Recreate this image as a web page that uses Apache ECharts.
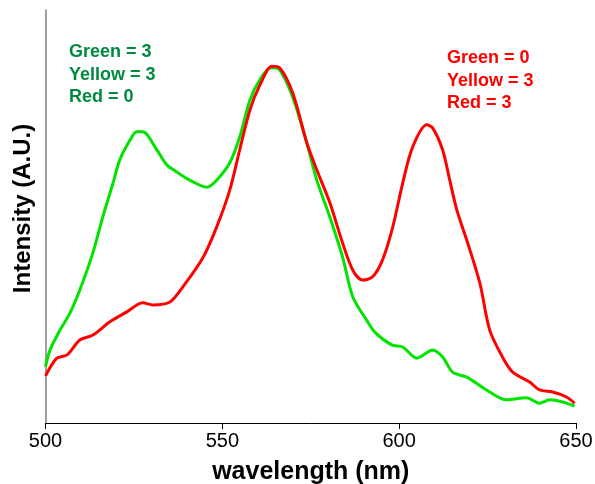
<!DOCTYPE html>
<html><head><meta charset="utf-8">
<script src="https://cdn.jsdelivr.net/npm/echarts@6/dist/echarts.min.js"></script>
<style>html,body{margin:0;padding:0;background:#fff}#c{width:595px;height:484px}</style>
</head><body><div id="c"></div>
<script>
const xTicks = [500, 550, 600, 650];
const greenWl = [500,501.3,504.1,506.9,509.7,513.4,516.2,519.1,521.0,523.9,525.8,527.5,531.5,534.3,537.1,540.8,545.6,548.4,552.1,554.9,557.8,560.6,563.7,566.2,569.9,573.9,576.7,580.4,584.0,586.9,590.8,593.1,597.9,601.0,605.0,609.5,612.3,615.1,619.1,624.7,630.4,636.0,639.7,642.5,646.2,649.6];
const greenInt = [13.6,17.7,22.5,26.6,32.2,41.2,49.9,58.1,63.7,68.5,70.5,70.5,66.1,62.5,60.8,58.8,57.1,58.8,63.0,69.2,78.2,83.1,86.0,85.5,78.9,67.8,58.8,49.9,40.2,30.5,24.9,22.0,18.9,18.4,15.7,17.7,16.0,12.3,11.1,8.0,5.6,6.1,4.8,5.6,5.1,4.1];
const redWl = [500,503.2,506.1,509.7,513.4,518.2,523.0,527.5,530.4,535.2,538.8,544.5,548.4,552.1,554.9,557.8,560.6,564.0,566.2,569.9,573.9,576.7,580.4,584.0,586.9,589.7,592.5,595.3,598.2,601.0,603.8,607.8,609.5,612.3,614.3,616.3,619.1,622.8,625.6,629.2,632.1,636.9,639.7,643.4,647.3,649.6];
const redInt = [11.4,15.7,16.5,20.1,21.3,24.5,26.9,29.1,28.6,29.3,32.9,40.0,47.5,56.4,66.1,75.8,81.8,86.4,86.0,79.9,67.8,61.3,53.3,43.6,37.0,34.6,35.4,39.5,47.5,58.1,66.8,72.2,71.4,66.1,58.8,51.6,44.3,33.9,22.5,16.0,12.3,9.9,8.0,7.5,6.3,4.8];
const greenLabel = ['Green = 3', 'Yellow = 3', 'Red = 0'];
const redLabel = ['Green = 0', 'Yellow = 3', 'Red = 3'];

const chart = echarts.init(document.getElementById('c'));
const FONT = '"Liberation Sans", Arial, sans-serif';
chart.setOption({
  animation: false,
  backgroundColor: '#fff',
  grid: {left: 45.5, right: 19, top: 10, bottom: 61, containLabel: false, outerBoundsMode: 'none'},
  xAxis: {
    type: 'value', min: 500, max: 650, interval: 50,
    name: 'wavelength (nm)', nameLocation: 'middle', nameGap: 37,
    nameTextStyle: {fontFamily: FONT, fontSize: 25, fontWeight: 'bold', color: '#000'},
    axisLine: {lineStyle: {color: '#000', width: 1}},
    axisTick: {show: true, inside: false, length: 6, lineStyle: {color: '#000'}},
    axisLabel: {fontFamily: FONT, fontSize: 20, color: '#000', margin: 8,
      formatter: v => xTicks.includes(v) ? String(v) : ''},
    splitLine: {show: false}
  },
  yAxis: {
    type: 'value', min: 0, max: 100,
    name: 'Intensity (A.U.)', nameLocation: 'middle', nameGap: 10, nameRotate: 90,
    nameTextStyle: {fontFamily: FONT, fontSize: 24, fontWeight: 'bold', color: '#000', padding: [0, 0, 0, 16]},
    axisLine: {show: true, lineStyle: {color: '#808080', width: 1.5}},
    axisTick: {show: false}, axisLabel: {show: false}, splitLine: {show: false}
  },
  series: [
    {type: 'line', data: greenWl.map((w, i) => [w, greenInt[i]]), smooth: 0.3, symbol: 'none',
     lineStyle: {color: '#00e400', width: 3}, z: 2},
    {type: 'line', data: redWl.map((w, i) => [w, redInt[i]]), smooth: 0.3, symbol: 'none',
     lineStyle: {color: '#ff0000', width: 3}, z: 3}
  ],
  graphic: [
    {type: 'text', left: 69, top: 41, style: {text: greenLabel.join('\n'), font: 'bold 18px ' + FONT, fill: '#008a3e', lineHeight: 22.5}},
    {type: 'text', left: 447, top: 47, style: {text: redLabel.join('\n'), font: 'bold 18px ' + FONT, fill: '#ff0000', lineHeight: 22.5}}
  ]
});
</script></body></html>
